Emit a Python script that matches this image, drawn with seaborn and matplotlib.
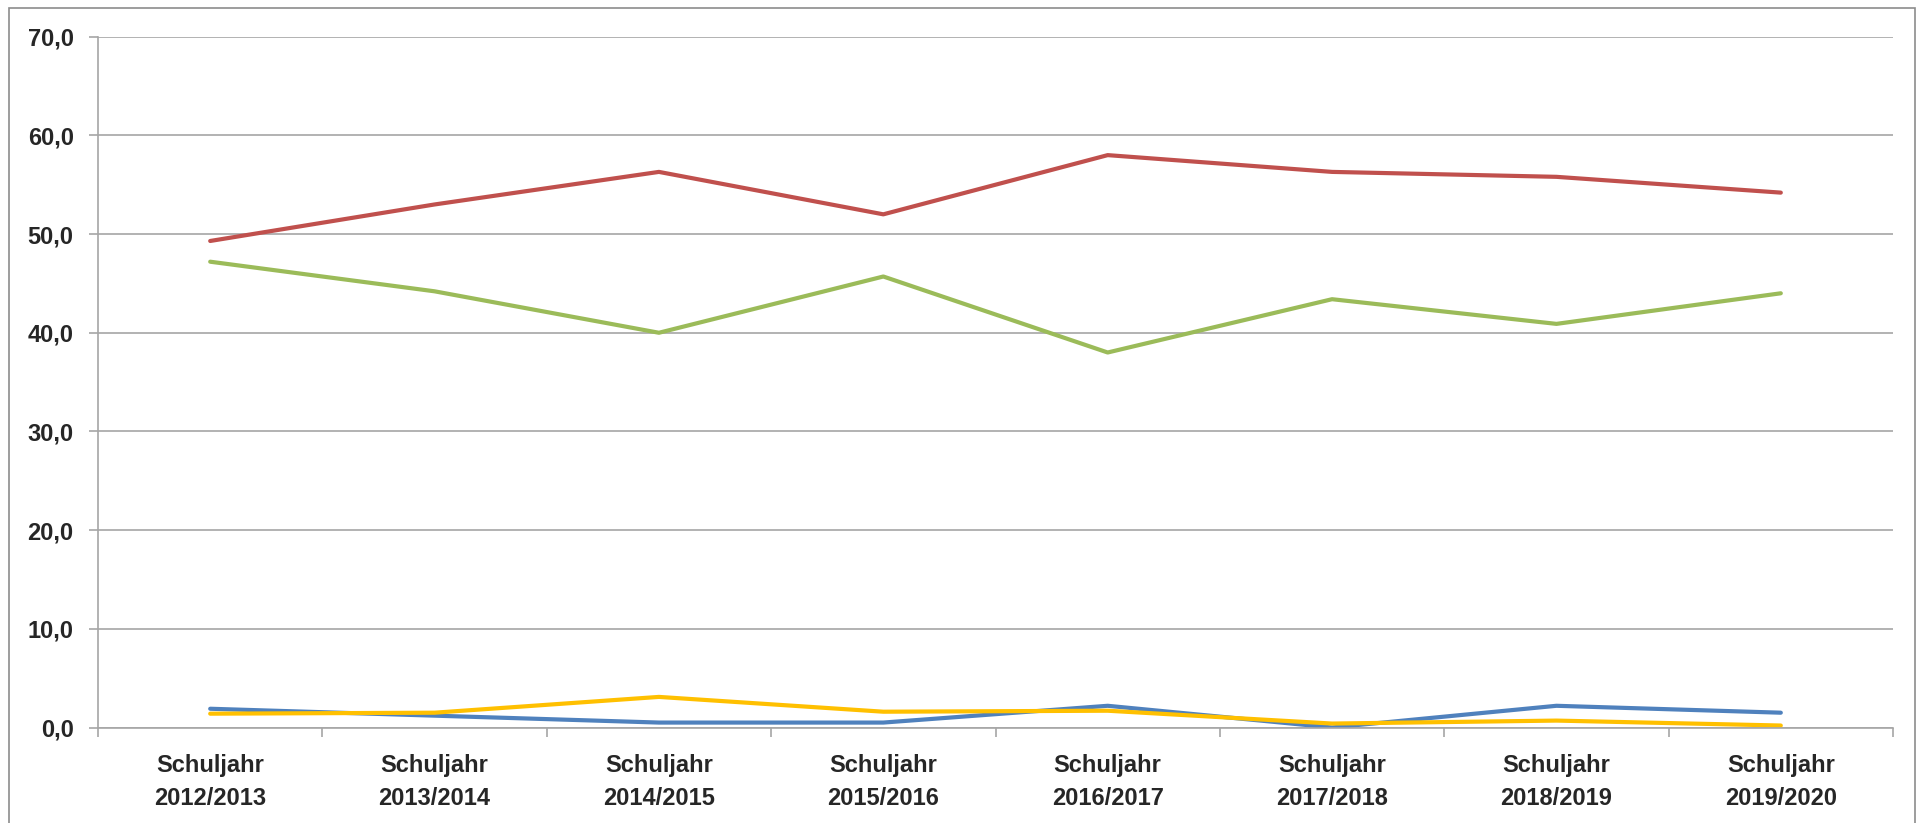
import matplotlib
matplotlib.use("Agg")
import matplotlib.pyplot as plt
import matplotlib.patches as mpatches
from matplotlib.ticker import FixedLocator, FuncFormatter
import seaborn as sns
import pandas as pd
import numpy as np

categories = ["Schuljahr\n2012/2013", "Schuljahr\n2013/2014", "Schuljahr\n2014/2015",
              "Schuljahr\n2015/2016", "Schuljahr\n2016/2017", "Schuljahr\n2017/2018",
              "Schuljahr\n2018/2019", "Schuljahr\n2019/2020"]
blue_vals = [1.9, 1.2, 0.5, 0.5, 2.2, 0.0, 2.2, 1.5]
red_vals = [49.3, 53.0, 56.3, 52.0, 58.0, 56.3, 55.8, 54.2]
green_vals = [47.2, 44.2, 40.0, 45.7, 38.0, 43.4, 40.9, 44.0]
yellow_vals = [1.4, 1.5, 3.1, 1.6, 1.7, 0.4, 0.7, 0.2]
series_names = ["A", "B", "C", "D"]
series_colors = ["#4F81BD", "#C0504D", "#9BBB59", "#FFC000"]
y_ticks = [0, 10, 20, 30, 40, 50, 60, 70]

rows = []
for name, vals in zip(series_names, [blue_vals, red_vals, green_vals, yellow_vals]):
    for i, (c, v) in enumerate(zip(categories, vals)):
        rows.append({"pos": i, "Kategorie": c, "Wert": v, "Serie": name})
df = pd.DataFrame(rows)

sns.set_style("white")
plt.rcParams["font.family"] = ["Liberation Sans Narrow", "Liberation Sans", "DejaVu Sans"]

fig = plt.figure(figsize=(19.17, 8.23), dpi=100)
ax = fig.add_axes([98 / 1917, 1 - 727.5 / 823, (1893 - 98) / 1917, (727.5 - 36.7) / 823])

sns.lineplot(data=df, x="pos", y="Wert", hue="Serie", hue_order=series_names,
             palette=series_colors, linewidth=3.0, ax=ax, legend=False, sort=False)

ax.set_xlim(-0.5, len(categories) - 0.5)
ax.set_ylim(0, 70)
ax.set_xlabel("")
ax.set_ylabel("")

grid_c = "#A6A6A6"
ax.yaxis.set_major_locator(FixedLocator(y_ticks))
ax.yaxis.set_major_formatter(FuncFormatter(lambda v, p: f"{v:.1f}".replace(".", ",")))
ax.grid(axis="y", color=grid_c, linewidth=1.2)
ax.grid(axis="x", visible=False)
ax.set_axisbelow(True)

ax.xaxis.set_major_locator(FixedLocator(np.arange(-0.5, len(categories), 1.0)))
ax.xaxis.set_major_formatter(FuncFormatter(lambda v, p: ""))
ax.xaxis.set_minor_locator(FixedLocator(np.arange(len(categories))))
ax.set_xticklabels(categories, minor=True)

ax.tick_params(axis="x", which="major", direction="out", length=6.5, width=1.2, color=grid_c, bottom=True)
ax.tick_params(axis="x", which="minor", length=0, pad=19, labelsize=17)
ax.tick_params(axis="y", which="major", direction="out", length=6.5, width=1.2, color=grid_c,
               left=True, pad=11, labelsize=17)
for lab in ax.get_xticklabels(minor=True):
    lab.set_fontweight("bold")
    lab.set_linespacing(1.55)
for lab in ax.get_yticklabels():
    lab.set_fontweight("bold")

for s in ["top", "right"]:
    ax.spines[s].set_visible(False)
for s in ["left", "bottom"]:
    ax.spines[s].set_color(grid_c)
    ax.spines[s].set_linewidth(1.2)

frame = mpatches.Rectangle((9 / 1917, -0.05), (1915 - 9) / 1917, 1.05 - 8 / 823,
                           transform=fig.transFigure, fill=False, edgecolor="#8C8C8C",
                           linewidth=1.2, clip_on=False)
fig.patches.append(frame)

fig.savefig("out.png", dpi=100)
